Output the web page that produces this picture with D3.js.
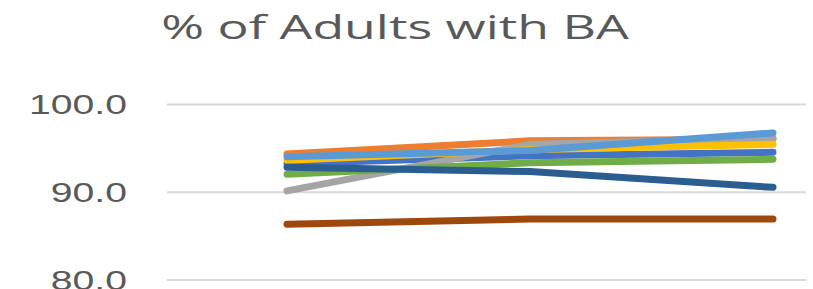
<!DOCTYPE html>
<html>
<head>
<meta charset="utf-8">
<script src="https://cdn.jsdelivr.net/npm/d3@7"></script>
<style>
  body { margin: 0; background: #fff; }
  svg { display: block; font-family: "Open Sans", "Liberation Sans", sans-serif; }
</style>
</head>
<body>
<svg id="chart" width="813" height="289"></svg>
<script>
// values, three periods per series
const periods = ['P1', 'P2', 'P3'];
const yTicks = [80, 90, 100];

const seriesNames = ['blue', 'orange', 'gray', 'yellow', 'lightBlue', 'green', 'darkBlue', 'brown'];
const seriesColors = ['#4472C4', '#ED7D31', '#A5A5A5', '#FFC000', '#5B9BD5', '#70AD47', '#2A5E91', '#9E480E'];
const blue = [93.2, 94.1, 94.5];
const orange = [94.3, 95.8, 96.0];
const gray = [90.1, 95.4, 96.1];
const yellow = [93.6, 94.8, 95.4];
const lightBlue = [94.0, 94.7, 96.7];
const green = [92.0, 93.3, 93.7];
const darkBlue = [92.8, 92.3, 90.5];
const brown = [86.3, 86.9, 86.9];
const seriesValues = [blue, orange, gray, yellow, lightBlue, green, darkBlue, brown];

const svg = d3.select('#chart');

// the source picture is stretched sideways, so text gets a wider x scale
const stretch = 1.45;
const titleStretch = 1.62;

const x = d3.scalePoint().domain(periods).range([287, 773]);
const y = d3.scaleLinear().domain([80, 100]).range([279.5, 104]);

// title
svg.append('text')
    .attr('transform', `translate(395,39) scale(${titleStretch},1)`)
    .attr('text-anchor', 'middle')
    .attr('fill', '#595959')
    .attr('font-size', 32)
    .text('% of Adults with BA');

// gridlines + tick labels
const yAxis = d3.axisLeft(y)
    .tickValues(yTicks)
    .tickSize(-(806 - 167))
    .tickPadding(40)
    .tickFormat(d3.format('.1f'));

const g = svg.append('g')
    .attr('transform', 'translate(167,0)')
    .call(yAxis);
g.select('.domain').remove();
g.selectAll('.tick line').attr('stroke', '#d9d9d9').attr('stroke-width', 2);
g.selectAll('.tick text')
    .attr('x', 0)
    .attr('transform', `translate(-40,0) scale(${stretch},1)`)
    .attr('fill', '#595959')
    .attr('font-size', 27)
    .attr('dy', '0.36em');

// lines
const line = d3.line()
    .x((d, i) => x(periods[i]))
    .y((d) => y(d));

svg.append('g')
    .selectAll('path')
    .data(seriesValues)
    .join('path')
    .attr('d', line)
    .attr('fill', 'none')
    .attr('stroke', (d, i) => seriesColors[i])
    .attr('stroke-width', 7)
    .attr('stroke-linecap', 'round')
    .attr('stroke-linejoin', 'round');
</script>
</body>
</html>
